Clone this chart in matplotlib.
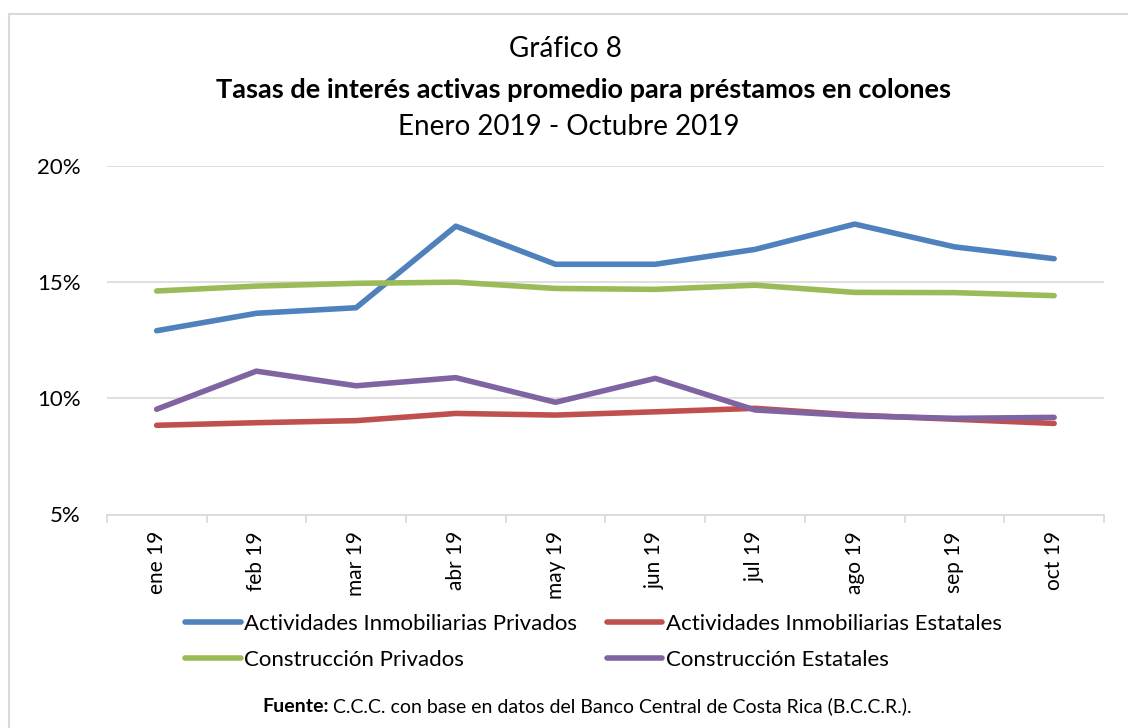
import numpy as np
import matplotlib
matplotlib.use("Agg")
import matplotlib.pyplot as plt
from matplotlib.patches import Rectangle
from matplotlib.ticker import FuncFormatter, FixedLocator

plt.rcParams['font.family'] = ['Lato', 'DejaVu Sans']

# data (percent)
months = ["ene 19", "feb 19", "mar 19", "abr 19", "may 19",
          "jun 19", "jul 19", "ago 19", "sep 19", "oct 19"]
inmob_priv = [12.91, 13.66, 13.90, 17.41, 15.77, 15.77, 16.41, 17.50, 16.52, 16.01]
inmob_est = [8.84, 8.95, 9.04, 9.35, 9.28, 9.42, 9.57, 9.28, 9.10, 8.92]
constr_priv = [14.62, 14.83, 14.95, 15.00, 14.73, 14.69, 14.87, 14.56, 14.55, 14.42]
constr_est = [9.53, 11.17, 10.54, 10.89, 9.83, 10.86, 9.50, 9.25, 9.14, 9.18]

series = [
    ("Actividades Inmobiliarias Privados", inmob_priv, "#4f81bd"),
    ("Actividades Inmobiliarias Estatales", inmob_est, "#c0504d"),
    ("Construcción Privados", constr_priv, "#9bbb59"),
    ("Construcción Estatales", constr_est, "#8064a2"),
]

W, H = 1128, 728
fig = plt.figure(figsize=(W / 100, H / 100), dpi=100)

# light frame like the chart area border
fig.patches.append(Rectangle((8.5 / W, -0.1), 2, 1 - 14 / H + 0.1,
                             transform=fig.transFigure, fill=False,
                             edgecolor="#d9d9d9", linewidth=1.5))

ax = fig.add_axes([106.8 / W, 1 - 514.5 / H, (1104 - 106.8) / W, (514.5 - 166) / H])

x = np.arange(len(months))
lines = []
for name, vals, col in series:
    ln, = ax.plot(x, vals, color=col, linewidth=4, label=name, solid_capstyle="round")
    lines.append(ln)

ax.set_xlim(-0.5, len(months) - 0.5)
ax.set_ylim(5, 20)
ax.set_yticks([5, 10, 15, 20])
ax.yaxis.set_major_formatter(FuncFormatter(lambda v, p: f"{v:.0f}%"))
ax.set_xticks(x)
ax.set_xticklabels(months, rotation=90, va="top", ha="center")
ax.xaxis.set_minor_locator(FixedLocator(np.arange(-0.5, len(months), 1)))
ax.tick_params(axis="x", which="major", length=0, pad=12, labelsize=15)
ax.tick_params(axis="x", which="minor", length=5.5, color="#d9d9d9", width=1.2)
ax.tick_params(axis="y", length=0, pad=19, labelsize=16)

ax.grid(axis="y", color="#d9d9d9", linewidth=1.2)
ax.set_axisbelow(True)
for s in ["top", "right", "left"]:
    ax.spines[s].set_visible(False)
ax.spines["bottom"].set_color("#d9d9d9")
ax.spines["bottom"].set_linewidth(1.2)

fig.text(565 / W, 1 - 49 / H, "Gráfico 8", ha="center", va="center", fontsize=20)
fig.text(583 / W, 1 - 90 / H, "Tasas de interés activas promedio para préstamos en colones",
         ha="center", va="center", fontsize=19.5, fontweight="bold")
fig.text(569 / W, 1 - 127 / H, "Enero 2019 - Octubre 2019", ha="center", va="center", fontsize=20)

# legend filled row by row like the original
order = [0, 2, 1, 3]
fig.legend([lines[i] for i in order], [series[i][0] for i in order],
           loc="upper left", bbox_to_anchor=(185 / W, 1 - 614 / H), ncol=2,
           frameon=False, fontsize=16, handlelength=2.5, handletextpad=0.15,
           columnspacing=1.35, borderpad=0, borderaxespad=0, labelspacing=0.72)

# source line: bold "Fuente:" followed by regular text
fig.canvas.draw()
r = fig.canvas.get_renderer()
src_bold = fig.text(0, 1 - 706 / H, "Fuente:", ha="left", va="center",
                    fontsize=14, fontweight="bold")
src_rest = fig.text(0, 1 - 706 / H,
                    " C.C.C. con base en datos del Banco Central de Costa Rica (B.C.C.R.).",
                    ha="left", va="center", fontsize=14)
wb = src_bold.get_window_extent(r).width
wr = src_rest.get_window_extent(r).width
x0 = 587 - (wb + wr) / 2
src_bold.set_x(x0 / W)
src_rest.set_x((x0 + wb) / W)

fig.savefig("out.png", dpi=100)
